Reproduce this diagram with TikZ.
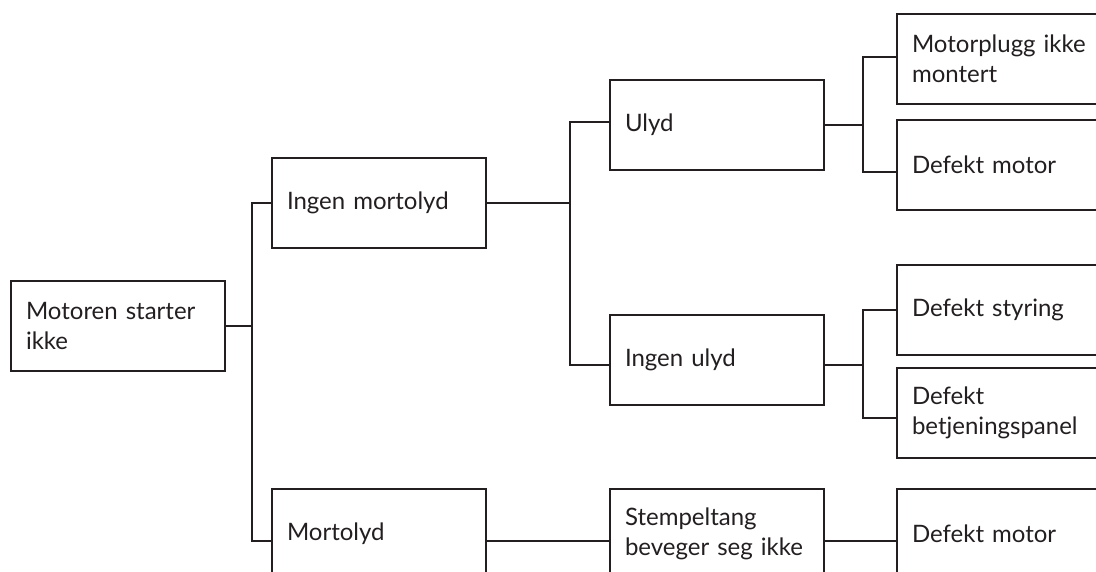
\documentclass[tikz,border=0pt]{standalone}
\usepackage{fontspec}
\setmainfont{Lato}
\usepackage{xcolor}
\usetikzlibrary{positioning, calc}
\definecolor{ink}{HTML}{231F20}

\begin{document}
\begin{tikzpicture}[
        box/.style = {rectangle, draw=ink, line width=1pt, outer sep=0pt, text=ink, text width=92pt, inner xsep=7.5pt, align=left, minimum height=45pt, font=\fontsize{12}{15}\selectfont},
        wide/.style = {box, text width=100pt},
        line/.style = {draw=ink, line width=1pt}
    ]

    \useasboundingbox (0,0) rectangle (548pt,-286pt);
    \clip (0,0) rectangle (548pt,-286pt);

    % --- BOXES ---

    \node[box] (start) at (59pt,-162.75pt) {Motoren starter\\ikke};

    % second column
    \node[box, right=23.5pt of start, yshift=61.25pt] (ingenmot) {Ingen mortolyd};
    \node[box, right=23.5pt of start, yshift=-104.25pt] (mortolyd) {Mortolyd};

    % third column
    \node[box, right=62pt of ingenmot, yshift=39pt] (ulyd) {Ulyd};
    \node[box, right=62pt of ingenmot, yshift=-78.25pt] (ingenulyd) {Ingen ulyd};
    \node[box, right=62pt of mortolyd] (stempel) {Stempeltang\\beveger seg ikke};

    % right column (runs past the edge)
    \node[wide, right=36.5pt of ulyd, yshift=33pt] (plugg) {Motorplugg ikke\\montert};
    \node[wide, right=36.5pt of ulyd, yshift=-20pt] (motorA) {Defekt motor};
    \node[wide, right=36.5pt of ingenulyd, yshift=25pt] (styring) {Defekt styring};
    \node[wide, right=36.5pt of ingenulyd, yshift=-26.5pt] (panel) {Defekt\\betjeningspanel};
    \node[wide, right=36.5pt of stempel] (motorB) {Defekt motor};

    % --- CONNECTORS ---

    \coordinate[right=13.5pt of start] (j1);
    \draw[line] (start) -- (j1);
    \draw[line] (j1) |- (ingenmot.west);
    \draw[line] (j1) |- ([yshift=-3.5pt]mortolyd.west);

    \coordinate[right=42pt of ingenmot] (j2);
    \draw[line] (ingenmot) -- (j2);
    \draw[line] (j2) |- ([yshift=1.5pt]ulyd.west);
    \draw[line] (j2) |- ([yshift=-2.75pt]ingenulyd.west);

    \coordinate[right=19.5pt of ulyd] (j3);
    \draw[line] (ulyd) -- (j3);
    \draw[line] (j3) |- ([yshift=1pt]plugg.west);
    \draw[line] (j3) |- ([yshift=-3.5pt]motorA.west);

    \coordinate (j4) at ([xshift=19.5pt, yshift=-2.75pt]ingenulyd.east);
    \draw[line] ([yshift=-2.75pt]ingenulyd.east) -- (j4);
    \draw[line] (j4) |- (styring.west);
    \draw[line] (j4) |- ([yshift=-2.75pt]panel.west);

    \draw[line] ([yshift=-3.5pt]mortolyd.east) -- ([yshift=-3.5pt]stempel.west);
    \draw[line] ([yshift=-3.5pt]stempel.east) -- ([yshift=-3.5pt]motorB.west);

\end{tikzpicture}
\end{document}
